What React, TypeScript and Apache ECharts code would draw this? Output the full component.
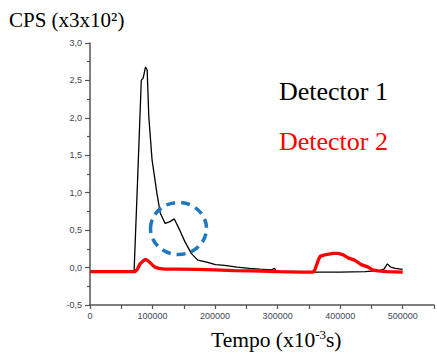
import React, { useEffect, useRef } from "react";
import * as echarts from "echarts";

// Detector 1 (black) — time (x10^-3 s) and CPS (x3x10^2)
const det1Time = [0, 20000, 40000, 60000, 70500, 76000, 82000, 85000, 88800, 91400, 94000, 99200, 107000, 112300, 120100, 127000, 134800, 143500, 151500, 161900, 172400, 188000, 200600, 215000, 235000, 255000, 271600, 290000, 295000, 298000, 305000, 330000, 360000, 400000, 440000, 455000, 465000, 470000, 475400, 480000, 488000, 500000];
const det1Values = [-0.05, -0.05, -0.05, -0.05, -0.05, 1.15, 2.5, 2.53, 2.68, 2.64, 2.02, 1.44, 0.99, 0.73, 0.59, 0.61, 0.65, 0.5, 0.35, 0.19, 0.1, 0.07, 0.04, 0.03, 0.005, -0.01, -0.02, -0.03, -0.01, -0.045, -0.055, -0.055, -0.06, -0.06, -0.055, -0.045, -0.035, -0.02, 0.05, 0.01, -0.01, -0.025];

// Detector 2 (red)
const det2Time = [0, 30000, 60000, 72000, 76000, 80000, 85000, 88800, 93000, 98000, 103000, 110000, 120000, 140000, 170000, 200000, 230000, 260000, 300000, 340000, 357000, 360000, 365000, 368000, 375000, 382000, 389000, 397000, 405000, 412700, 423000, 433600, 444000, 451800, 460000, 475000, 500000];
const det2Values = [-0.055, -0.055, -0.055, -0.055, -0.02, 0.05, 0.09, 0.11, 0.09, 0.05, 0.01, -0.01, -0.02, -0.02, -0.025, -0.03, -0.04, -0.045, -0.055, -0.06, -0.06, -0.02, 0.1, 0.15, 0.17, 0.18, 0.19, 0.19, 0.17, 0.13, 0.1, 0.04, 0.01, -0.03, -0.045, -0.055, -0.06];

const yMin = -0.5;
const yMax = 3.0;
const yStep = 0.5;
const xMin = 0;
const xMax = 550000;
const xStep = 50000;
const xLabelStep = 100000;

const seriesNames = ["Detector 1", "Detector 2"];
const yTitle = "CPS (x3x10²)";

const pair = (t: number[], v: number[]) => t.map((x, i) => [x, v[i]]);

export default function App() {
  const ref = useRef<HTMLDivElement>(null);
  useEffect(() => {
    if (!ref.current) return;
    const chart = echarts.init(ref.current, null, { renderer: "svg" });
    const serif = "Liberation Serif";
    const labelColor = "#3d4656";
    chart.setOption({
      animation: false,
      backgroundColor: "#ffffff",
      grid: { left: 90, top: 43, width: 351, height: 262 },
      xAxis: {
        type: "value",
        min: xMin,
        max: xMax,
        interval: xStep,
        splitLine: { show: false },
        axisLine: { show: true, onZero: false, lineStyle: { color: "#555", width: 1.5 } },
        axisTick: { show: true, length: 4, inside: false, lineStyle: { color: "#555", width: 1.2 } },
        axisLabel: {
          color: labelColor,
          fontFamily: "Liberation Sans",
          fontSize: 9,
          margin: 6,
          showMaxLabel: true,
          formatter: (v: number) => (v % xLabelStep === 0 ? String(v) : ""),
        },
      },
      yAxis: {
        type: "value",
        min: yMin,
        max: yMax,
        interval: yStep,
        splitLine: { show: false },
        axisLine: { show: true, onZero: false, lineStyle: { color: "#555", width: 1.5 } },
        axisTick: { show: true, length: 5, lineStyle: { color: "#555", width: 1.2 } },
        minorTick: { show: true, splitNumber: 2, length: 3, lineStyle: { color: "#555", width: 1.2 } },
        axisLabel: {
          color: labelColor,
          fontFamily: "Liberation Sans",
          fontSize: 9,
          margin: 8,
          formatter: (v: number) => v.toFixed(1).replace(".", ","),
        },
      },
      series: [
        {
          name: seriesNames[0],
          type: "line",
          data: pair(det1Time, det1Values),
          showSymbol: false,
          lineStyle: { color: "#000000", width: 1.3 },
          z: 2,
        },
        {
          name: seriesNames[1],
          type: "line",
          data: pair(det2Time, det2Values),
          showSymbol: false,
          lineStyle: { color: "#ff0000", width: 3.3 },
          z: 3,
        },
      ],
      graphic: [
        {
          type: "text",
          left: 9,
          top: 9,
          style: { text: yTitle, fontSize: 21, fontFamily: serif, fill: "#000" },
        },
        {
          type: "text",
          left: 211,
          top: 328,
          style: {
            text: "{a|Tempo (x10}{s|-3}{a|s)}",
            rich: {
              a: { fontSize: 21.5, fontFamily: serif, fill: "#000", verticalAlign: "bottom" },
              s: { fontSize: 13, fontFamily: serif, fill: "#000", verticalAlign: "top", padding: [0, 0, 10, 0] },
            },
          },
        },
        {
          type: "text",
          left: 279,
          top: 78,
          style: { text: seriesNames[0], fontSize: 26, fontFamily: serif, fill: "#000" },
        },
        {
          type: "text",
          left: 279,
          top: 128,
          style: { text: seriesNames[1], fontSize: 26, fontFamily: serif, fill: "#ff0000" },
        },
        {
          type: "ellipse",
          shape: { cx: 178.5, cy: 228.5, rx: 28, ry: 26 },
          style: { fill: "none", stroke: "#1f77c0", lineWidth: 3.5, lineDash: [9, 6] },
          z: 10,
        },
      ],
    });
    return () => chart.dispose();
  }, []);
  return (
    <div
      ref={ref}
      style={{ position: "fixed", left: 0, top: 0, width: 437, height: 354, background: "#fff" }}
    />
  );
}
